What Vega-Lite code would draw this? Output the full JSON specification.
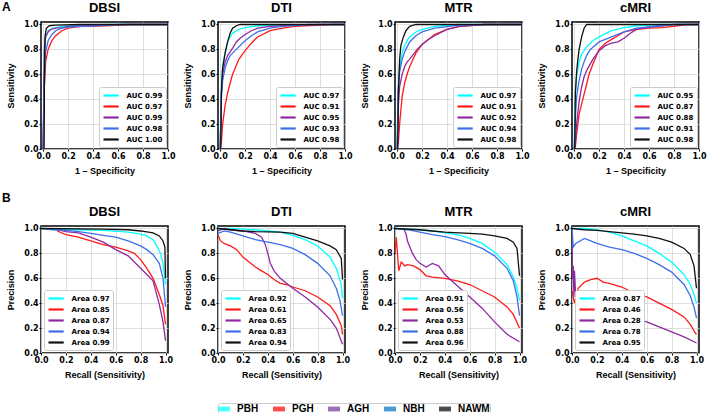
{
"$schema": "https://vega.github.io/schema/vega-lite/v6.json",
"padding": {"left": 2, "top": 0, "right": 0, "bottom": 0},
"config": {
 "font": "DejaVu Sans",
 "view": {"stroke": "black", "strokeWidth": 1.5},
 "axis": {"labelFontWeight": "bold", "labelFontSize": 8, "labelColor": "black", "titleFont": "Liberation Sans", "titleFontWeight": "bold", "titleFontSize": 9, "titleColor": "black", "gridColor": "#d6d6d6", "gridWidth": 0.8, "domain": false, "tickColor": "black", "tickSize": 2, "labelPadding": 1, "labelFlush": false, "labelOverlap": false},
 "axisX": {"titlePadding": 6},
 "axisY": {"titlePadding": 8},
 "title": {"font": "Liberation Sans", "fontSize": 13, "fontWeight": "bold", "offset": 5, "color": "black"},
 "legend": {"labelFont": "DejaVu Sans", "labelFontWeight": "bold", "labelFontSize": 7, "labelColor": "black", "symbolType": "M-1.9,0H1.9", "symbolSize": 64, "symbolStrokeWidth": 2.2, "symbolOffset": 3.6, "labelOffset": 10, "fillColor": "white", "strokeColor": "#cccccc", "padding": 3, "cornerRadius": 2, "rowPadding": 1, "offset": 2}
},
"datasets": {
 "roc": [
  {"p":"DBSI","s":"PBH","x":0,"y":0},{"p":"DBSI","s":"PBH","x":0.005,"y":0.3},{"p":"DBSI","s":"PBH","x":0.01,"y":0.8},{"p":"DBSI","s":"PBH","x":0.02,"y":0.9},{"p":"DBSI","s":"PBH","x":0.04,"y":0.95},{"p":"DBSI","s":"PBH","x":0.08,"y":0.97},{"p":"DBSI","s":"PBH","x":0.15,"y":0.985},{"p":"DBSI","s":"PBH","x":0.3,"y":0.995},{"p":"DBSI","s":"PBH","x":0.5,"y":1},{"p":"DBSI","s":"PBH","x":1,"y":1},
  {"p":"DBSI","s":"PGH","x":0,"y":0},{"p":"DBSI","s":"PGH","x":0.005,"y":0.3},{"p":"DBSI","s":"PGH","x":0.01,"y":0.5},{"p":"DBSI","s":"PGH","x":0.02,"y":0.7},{"p":"DBSI","s":"PGH","x":0.04,"y":0.8},{"p":"DBSI","s":"PGH","x":0.07,"y":0.87},{"p":"DBSI","s":"PGH","x":0.1,"y":0.91},{"p":"DBSI","s":"PGH","x":0.15,"y":0.95},{"p":"DBSI","s":"PGH","x":0.2,"y":0.97},{"p":"DBSI","s":"PGH","x":0.3,"y":0.985},{"p":"DBSI","s":"PGH","x":0.5,"y":0.99},{"p":"DBSI","s":"PGH","x":0.7,"y":1},{"p":"DBSI","s":"PGH","x":1,"y":1},
  {"p":"DBSI","s":"AGH","x":0,"y":0},{"p":"DBSI","s":"AGH","x":0.005,"y":0.4},{"p":"DBSI","s":"AGH","x":0.01,"y":0.8},{"p":"DBSI","s":"AGH","x":0.02,"y":0.9},{"p":"DBSI","s":"AGH","x":0.04,"y":0.94},{"p":"DBSI","s":"AGH","x":0.06,"y":0.96},{"p":"DBSI","s":"AGH","x":0.1,"y":0.97},{"p":"DBSI","s":"AGH","x":0.15,"y":0.975},{"p":"DBSI","s":"AGH","x":0.2,"y":0.985},{"p":"DBSI","s":"AGH","x":0.4,"y":0.99},{"p":"DBSI","s":"AGH","x":0.65,"y":1},{"p":"DBSI","s":"AGH","x":1,"y":1},
  {"p":"DBSI","s":"NBH","x":0,"y":0},{"p":"DBSI","s":"NBH","x":0.005,"y":0.3},{"p":"DBSI","s":"NBH","x":0.01,"y":0.6},{"p":"DBSI","s":"NBH","x":0.02,"y":0.78},{"p":"DBSI","s":"NBH","x":0.04,"y":0.87},{"p":"DBSI","s":"NBH","x":0.07,"y":0.92},{"p":"DBSI","s":"NBH","x":0.1,"y":0.95},{"p":"DBSI","s":"NBH","x":0.15,"y":0.97},{"p":"DBSI","s":"NBH","x":0.2,"y":0.98},{"p":"DBSI","s":"NBH","x":0.4,"y":0.99},{"p":"DBSI","s":"NBH","x":0.6,"y":1},{"p":"DBSI","s":"NBH","x":1,"y":1},
  {"p":"DBSI","s":"NAWM","x":0,"y":0},{"p":"DBSI","s":"NAWM","x":0.008,"y":0},{"p":"DBSI","s":"NAWM","x":0.01,"y":0.5},{"p":"DBSI","s":"NAWM","x":0.015,"y":0.9},{"p":"DBSI","s":"NAWM","x":0.025,"y":0.97},{"p":"DBSI","s":"NAWM","x":0.05,"y":0.99},{"p":"DBSI","s":"NAWM","x":0.1,"y":0.995},{"p":"DBSI","s":"NAWM","x":0.3,"y":1},{"p":"DBSI","s":"NAWM","x":1,"y":1},

  {"p":"DTI","s":"PBH","x":0,"y":0},{"p":"DTI","s":"PBH","x":0.005,"y":0.3},{"p":"DTI","s":"PBH","x":0.01,"y":0.5},{"p":"DTI","s":"PBH","x":0.02,"y":0.66},{"p":"DTI","s":"PBH","x":0.04,"y":0.78},{"p":"DTI","s":"PBH","x":0.06,"y":0.86},{"p":"DTI","s":"PBH","x":0.08,"y":0.9},{"p":"DTI","s":"PBH","x":0.1,"y":0.93},{"p":"DTI","s":"PBH","x":0.15,"y":0.96},{"p":"DTI","s":"PBH","x":0.2,"y":0.975},{"p":"DTI","s":"PBH","x":0.3,"y":0.99},{"p":"DTI","s":"PBH","x":0.5,"y":0.995},{"p":"DTI","s":"PBH","x":1,"y":1},
  {"p":"DTI","s":"PGH","x":0,"y":0},{"p":"DTI","s":"PGH","x":0.01,"y":0.05},{"p":"DTI","s":"PGH","x":0.02,"y":0.2},{"p":"DTI","s":"PGH","x":0.04,"y":0.35},{"p":"DTI","s":"PGH","x":0.06,"y":0.45},{"p":"DTI","s":"PGH","x":0.08,"y":0.53},{"p":"DTI","s":"PGH","x":0.1,"y":0.6},{"p":"DTI","s":"PGH","x":0.15,"y":0.72},{"p":"DTI","s":"PGH","x":0.2,"y":0.79},{"p":"DTI","s":"PGH","x":0.25,"y":0.85},{"p":"DTI","s":"PGH","x":0.3,"y":0.9},{"p":"DTI","s":"PGH","x":0.4,"y":0.95},{"p":"DTI","s":"PGH","x":0.5,"y":0.97},{"p":"DTI","s":"PGH","x":0.6,"y":0.985},{"p":"DTI","s":"PGH","x":0.8,"y":0.995},{"p":"DTI","s":"PGH","x":0.9,"y":1},{"p":"DTI","s":"PGH","x":1,"y":1},
  {"p":"DTI","s":"AGH","x":0,"y":0},{"p":"DTI","s":"AGH","x":0.005,"y":0.2},{"p":"DTI","s":"AGH","x":0.01,"y":0.45},{"p":"DTI","s":"AGH","x":0.02,"y":0.6},{"p":"DTI","s":"AGH","x":0.04,"y":0.7},{"p":"DTI","s":"AGH","x":0.06,"y":0.75},{"p":"DTI","s":"AGH","x":0.08,"y":0.78},{"p":"DTI","s":"AGH","x":0.1,"y":0.81},{"p":"DTI","s":"AGH","x":0.13,"y":0.86},{"p":"DTI","s":"AGH","x":0.16,"y":0.89},{"p":"DTI","s":"AGH","x":0.2,"y":0.92},{"p":"DTI","s":"AGH","x":0.25,"y":0.95},{"p":"DTI","s":"AGH","x":0.3,"y":0.97},{"p":"DTI","s":"AGH","x":0.4,"y":0.985},{"p":"DTI","s":"AGH","x":0.6,"y":0.995},{"p":"DTI","s":"AGH","x":0.8,"y":1},{"p":"DTI","s":"AGH","x":1,"y":1},
  {"p":"DTI","s":"NBH","x":0,"y":0},{"p":"DTI","s":"NBH","x":0.005,"y":0.2},{"p":"DTI","s":"NBH","x":0.01,"y":0.4},{"p":"DTI","s":"NBH","x":0.02,"y":0.55},{"p":"DTI","s":"NBH","x":0.04,"y":0.65},{"p":"DTI","s":"NBH","x":0.06,"y":0.71},{"p":"DTI","s":"NBH","x":0.08,"y":0.75},{"p":"DTI","s":"NBH","x":0.1,"y":0.77},{"p":"DTI","s":"NBH","x":0.15,"y":0.82},{"p":"DTI","s":"NBH","x":0.2,"y":0.87},{"p":"DTI","s":"NBH","x":0.25,"y":0.91},{"p":"DTI","s":"NBH","x":0.3,"y":0.94},{"p":"DTI","s":"NBH","x":0.4,"y":0.97},{"p":"DTI","s":"NBH","x":0.5,"y":0.985},{"p":"DTI","s":"NBH","x":0.7,"y":1},{"p":"DTI","s":"NBH","x":1,"y":1},
  {"p":"DTI","s":"NAWM","x":0,"y":0},{"p":"DTI","s":"NAWM","x":0.005,"y":0},{"p":"DTI","s":"NAWM","x":0.01,"y":0.45},{"p":"DTI","s":"NAWM","x":0.02,"y":0.65},{"p":"DTI","s":"NAWM","x":0.04,"y":0.77},{"p":"DTI","s":"NAWM","x":0.06,"y":0.86},{"p":"DTI","s":"NAWM","x":0.08,"y":0.93},{"p":"DTI","s":"NAWM","x":0.1,"y":0.97},{"p":"DTI","s":"NAWM","x":0.13,"y":0.99},{"p":"DTI","s":"NAWM","x":0.16,"y":1},{"p":"DTI","s":"NAWM","x":1,"y":1},

  {"p":"MTR","s":"PBH","x":0,"y":0},{"p":"MTR","s":"PBH","x":0.005,"y":0.3},{"p":"MTR","s":"PBH","x":0.01,"y":0.5},{"p":"MTR","s":"PBH","x":0.02,"y":0.65},{"p":"MTR","s":"PBH","x":0.04,"y":0.77},{"p":"MTR","s":"PBH","x":0.06,"y":0.83},{"p":"MTR","s":"PBH","x":0.08,"y":0.87},{"p":"MTR","s":"PBH","x":0.1,"y":0.9},{"p":"MTR","s":"PBH","x":0.15,"y":0.94},{"p":"MTR","s":"PBH","x":0.2,"y":0.96},{"p":"MTR","s":"PBH","x":0.3,"y":0.985},{"p":"MTR","s":"PBH","x":0.5,"y":1},{"p":"MTR","s":"PBH","x":1,"y":1},
  {"p":"MTR","s":"PGH","x":0,"y":0},{"p":"MTR","s":"PGH","x":0.01,"y":0.05},{"p":"MTR","s":"PGH","x":0.02,"y":0.2},{"p":"MTR","s":"PGH","x":0.04,"y":0.42},{"p":"MTR","s":"PGH","x":0.06,"y":0.53},{"p":"MTR","s":"PGH","x":0.08,"y":0.6},{"p":"MTR","s":"PGH","x":0.1,"y":0.66},{"p":"MTR","s":"PGH","x":0.15,"y":0.77},{"p":"MTR","s":"PGH","x":0.2,"y":0.84},{"p":"MTR","s":"PGH","x":0.25,"y":0.88},{"p":"MTR","s":"PGH","x":0.3,"y":0.92},{"p":"MTR","s":"PGH","x":0.4,"y":0.96},{"p":"MTR","s":"PGH","x":0.5,"y":0.985},{"p":"MTR","s":"PGH","x":0.7,"y":1},{"p":"MTR","s":"PGH","x":1,"y":1},
  {"p":"MTR","s":"AGH","x":0,"y":0},{"p":"MTR","s":"AGH","x":0.005,"y":0.15},{"p":"MTR","s":"AGH","x":0.01,"y":0.35},{"p":"MTR","s":"AGH","x":0.02,"y":0.5},{"p":"MTR","s":"AGH","x":0.04,"y":0.6},{"p":"MTR","s":"AGH","x":0.06,"y":0.66},{"p":"MTR","s":"AGH","x":0.08,"y":0.7},{"p":"MTR","s":"AGH","x":0.1,"y":0.72},{"p":"MTR","s":"AGH","x":0.13,"y":0.76},{"p":"MTR","s":"AGH","x":0.16,"y":0.8},{"p":"MTR","s":"AGH","x":0.2,"y":0.84},{"p":"MTR","s":"AGH","x":0.25,"y":0.88},{"p":"MTR","s":"AGH","x":0.3,"y":0.91},{"p":"MTR","s":"AGH","x":0.4,"y":0.96},{"p":"MTR","s":"AGH","x":0.5,"y":0.985},{"p":"MTR","s":"AGH","x":0.7,"y":1},{"p":"MTR","s":"AGH","x":1,"y":1},
  {"p":"MTR","s":"NBH","x":0,"y":0},{"p":"MTR","s":"NBH","x":0.005,"y":0.3},{"p":"MTR","s":"NBH","x":0.01,"y":0.5},{"p":"MTR","s":"NBH","x":0.02,"y":0.62},{"p":"MTR","s":"NBH","x":0.04,"y":0.72},{"p":"MTR","s":"NBH","x":0.06,"y":0.78},{"p":"MTR","s":"NBH","x":0.08,"y":0.82},{"p":"MTR","s":"NBH","x":0.1,"y":0.86},{"p":"MTR","s":"NBH","x":0.15,"y":0.91},{"p":"MTR","s":"NBH","x":0.2,"y":0.94},{"p":"MTR","s":"NBH","x":0.3,"y":0.97},{"p":"MTR","s":"NBH","x":0.5,"y":0.995},{"p":"MTR","s":"NBH","x":0.7,"y":1},{"p":"MTR","s":"NBH","x":1,"y":1},
  {"p":"MTR","s":"NAWM","x":0,"y":0},{"p":"MTR","s":"NAWM","x":0.005,"y":0},{"p":"MTR","s":"NAWM","x":0.01,"y":0.45},{"p":"MTR","s":"NAWM","x":0.02,"y":0.72},{"p":"MTR","s":"NAWM","x":0.03,"y":0.83},{"p":"MTR","s":"NAWM","x":0.05,"y":0.9},{"p":"MTR","s":"NAWM","x":0.07,"y":0.95},{"p":"MTR","s":"NAWM","x":0.1,"y":0.985},{"p":"MTR","s":"NAWM","x":0.15,"y":1},{"p":"MTR","s":"NAWM","x":1,"y":1},

  {"p":"cMRI","s":"PBH","x":0,"y":0},{"p":"cMRI","s":"PBH","x":0.005,"y":0.25},{"p":"cMRI","s":"PBH","x":0.01,"y":0.45},{"p":"cMRI","s":"PBH","x":0.02,"y":0.58},{"p":"cMRI","s":"PBH","x":0.04,"y":0.7},{"p":"cMRI","s":"PBH","x":0.06,"y":0.76},{"p":"cMRI","s":"PBH","x":0.08,"y":0.79},{"p":"cMRI","s":"PBH","x":0.1,"y":0.82},{"p":"cMRI","s":"PBH","x":0.15,"y":0.87},{"p":"cMRI","s":"PBH","x":0.2,"y":0.9},{"p":"cMRI","s":"PBH","x":0.3,"y":0.95},{"p":"cMRI","s":"PBH","x":0.4,"y":0.975},{"p":"cMRI","s":"PBH","x":0.5,"y":0.99},{"p":"cMRI","s":"PBH","x":0.7,"y":1},{"p":"cMRI","s":"PBH","x":1,"y":1},
  {"p":"cMRI","s":"PGH","x":0,"y":0},{"p":"cMRI","s":"PGH","x":0.01,"y":0.02},{"p":"cMRI","s":"PGH","x":0.02,"y":0.12},{"p":"cMRI","s":"PGH","x":0.04,"y":0.28},{"p":"cMRI","s":"PGH","x":0.06,"y":0.36},{"p":"cMRI","s":"PGH","x":0.08,"y":0.44},{"p":"cMRI","s":"PGH","x":0.1,"y":0.52},{"p":"cMRI","s":"PGH","x":0.12,"y":0.6},{"p":"cMRI","s":"PGH","x":0.15,"y":0.68},{"p":"cMRI","s":"PGH","x":0.2,"y":0.8},{"p":"cMRI","s":"PGH","x":0.25,"y":0.85},{"p":"cMRI","s":"PGH","x":0.3,"y":0.88},{"p":"cMRI","s":"PGH","x":0.35,"y":0.91},{"p":"cMRI","s":"PGH","x":0.4,"y":0.94},{"p":"cMRI","s":"PGH","x":0.5,"y":0.96},{"p":"cMRI","s":"PGH","x":0.6,"y":0.97},{"p":"cMRI","s":"PGH","x":0.7,"y":0.975},{"p":"cMRI","s":"PGH","x":0.8,"y":0.985},{"p":"cMRI","s":"PGH","x":0.9,"y":1},{"p":"cMRI","s":"PGH","x":1,"y":1},
  {"p":"cMRI","s":"AGH","x":0,"y":0},{"p":"cMRI","s":"AGH","x":0.01,"y":0.05},{"p":"cMRI","s":"AGH","x":0.02,"y":0.2},{"p":"cMRI","s":"AGH","x":0.04,"y":0.38},{"p":"cMRI","s":"AGH","x":0.06,"y":0.5},{"p":"cMRI","s":"AGH","x":0.08,"y":0.58},{"p":"cMRI","s":"AGH","x":0.1,"y":0.63},{"p":"cMRI","s":"AGH","x":0.15,"y":0.72},{"p":"cMRI","s":"AGH","x":0.2,"y":0.79},{"p":"cMRI","s":"AGH","x":0.25,"y":0.83},{"p":"cMRI","s":"AGH","x":0.3,"y":0.85},{"p":"cMRI","s":"AGH","x":0.35,"y":0.86},{"p":"cMRI","s":"AGH","x":0.4,"y":0.89},{"p":"cMRI","s":"AGH","x":0.45,"y":0.93},{"p":"cMRI","s":"AGH","x":0.5,"y":0.96},{"p":"cMRI","s":"AGH","x":0.6,"y":0.98},{"p":"cMRI","s":"AGH","x":0.8,"y":1},{"p":"cMRI","s":"AGH","x":1,"y":1},
  {"p":"cMRI","s":"NBH","x":0,"y":0},{"p":"cMRI","s":"NBH","x":0.005,"y":0.1},{"p":"cMRI","s":"NBH","x":0.01,"y":0.25},{"p":"cMRI","s":"NBH","x":0.02,"y":0.42},{"p":"cMRI","s":"NBH","x":0.04,"y":0.55},{"p":"cMRI","s":"NBH","x":0.06,"y":0.64},{"p":"cMRI","s":"NBH","x":0.08,"y":0.7},{"p":"cMRI","s":"NBH","x":0.1,"y":0.75},{"p":"cMRI","s":"NBH","x":0.13,"y":0.8},{"p":"cMRI","s":"NBH","x":0.2,"y":0.86},{"p":"cMRI","s":"NBH","x":0.25,"y":0.88},{"p":"cMRI","s":"NBH","x":0.3,"y":0.9},{"p":"cMRI","s":"NBH","x":0.4,"y":0.94},{"p":"cMRI","s":"NBH","x":0.5,"y":0.97},{"p":"cMRI","s":"NBH","x":0.6,"y":0.98},{"p":"cMRI","s":"NBH","x":0.7,"y":0.99},{"p":"cMRI","s":"NBH","x":0.8,"y":1},{"p":"cMRI","s":"NBH","x":1,"y":1},
  {"p":"cMRI","s":"NAWM","x":0,"y":0},{"p":"cMRI","s":"NAWM","x":0.005,"y":0},{"p":"cMRI","s":"NAWM","x":0.01,"y":0.45},{"p":"cMRI","s":"NAWM","x":0.02,"y":0.62},{"p":"cMRI","s":"NAWM","x":0.03,"y":0.72},{"p":"cMRI","s":"NAWM","x":0.04,"y":0.8},{"p":"cMRI","s":"NAWM","x":0.06,"y":0.9},{"p":"cMRI","s":"NAWM","x":0.08,"y":0.97},{"p":"cMRI","s":"NAWM","x":0.1,"y":1},{"p":"cMRI","s":"NAWM","x":1,"y":1}
 ],
 "pr": [
  {"p":"DBSI","s":"PBH","x":0,"y":1},{"p":"DBSI","s":"PBH","x":0.3,"y":0.99},{"p":"DBSI","s":"PBH","x":0.5,"y":0.985},{"p":"DBSI","s":"PBH","x":0.7,"y":0.97},{"p":"DBSI","s":"PBH","x":0.8,"y":0.955},{"p":"DBSI","s":"PBH","x":0.85,"y":0.94},{"p":"DBSI","s":"PBH","x":0.9,"y":0.91},{"p":"DBSI","s":"PBH","x":0.93,"y":0.86},{"p":"DBSI","s":"PBH","x":0.96,"y":0.8},{"p":"DBSI","s":"PBH","x":0.98,"y":0.72},{"p":"DBSI","s":"PBH","x":1,"y":0.55},
  {"p":"DBSI","s":"PGH","x":0.13,"y":0.98},{"p":"DBSI","s":"PGH","x":0.2,"y":0.95},{"p":"DBSI","s":"PGH","x":0.25,"y":0.94},{"p":"DBSI","s":"PGH","x":0.3,"y":0.93},{"p":"DBSI","s":"PGH","x":0.4,"y":0.9},{"p":"DBSI","s":"PGH","x":0.5,"y":0.87},{"p":"DBSI","s":"PGH","x":0.6,"y":0.85},{"p":"DBSI","s":"PGH","x":0.7,"y":0.82},{"p":"DBSI","s":"PGH","x":0.75,"y":0.8},{"p":"DBSI","s":"PGH","x":0.8,"y":0.75},{"p":"DBSI","s":"PGH","x":0.85,"y":0.68},{"p":"DBSI","s":"PGH","x":0.9,"y":0.6},{"p":"DBSI","s":"PGH","x":0.95,"y":0.47},{"p":"DBSI","s":"PGH","x":0.98,"y":0.38},{"p":"DBSI","s":"PGH","x":1,"y":0.23},
  {"p":"DBSI","s":"AGH","x":0.13,"y":0.99},{"p":"DBSI","s":"AGH","x":0.2,"y":0.975},{"p":"DBSI","s":"AGH","x":0.3,"y":0.965},{"p":"DBSI","s":"AGH","x":0.4,"y":0.93},{"p":"DBSI","s":"AGH","x":0.5,"y":0.89},{"p":"DBSI","s":"AGH","x":0.6,"y":0.83},{"p":"DBSI","s":"AGH","x":0.7,"y":0.78},{"p":"DBSI","s":"AGH","x":0.8,"y":0.68},{"p":"DBSI","s":"AGH","x":0.85,"y":0.63},{"p":"DBSI","s":"AGH","x":0.9,"y":0.58},{"p":"DBSI","s":"AGH","x":0.95,"y":0.39},{"p":"DBSI","s":"AGH","x":0.98,"y":0.25},{"p":"DBSI","s":"AGH","x":1,"y":0.1},
  {"p":"DBSI","s":"NBH","x":0,"y":1},{"p":"DBSI","s":"NBH","x":0.1,"y":0.99},{"p":"DBSI","s":"NBH","x":0.2,"y":0.985},{"p":"DBSI","s":"NBH","x":0.3,"y":0.975},{"p":"DBSI","s":"NBH","x":0.4,"y":0.96},{"p":"DBSI","s":"NBH","x":0.5,"y":0.945},{"p":"DBSI","s":"NBH","x":0.6,"y":0.93},{"p":"DBSI","s":"NBH","x":0.7,"y":0.9},{"p":"DBSI","s":"NBH","x":0.8,"y":0.86},{"p":"DBSI","s":"NBH","x":0.85,"y":0.83},{"p":"DBSI","s":"NBH","x":0.9,"y":0.79},{"p":"DBSI","s":"NBH","x":0.95,"y":0.72},{"p":"DBSI","s":"NBH","x":0.98,"y":0.6},{"p":"DBSI","s":"NBH","x":1,"y":0.37},
  {"p":"DBSI","s":"NAWM","x":0,"y":1},{"p":"DBSI","s":"NAWM","x":0.5,"y":0.995},{"p":"DBSI","s":"NAWM","x":0.7,"y":0.99},{"p":"DBSI","s":"NAWM","x":0.8,"y":0.98},{"p":"DBSI","s":"NAWM","x":0.9,"y":0.965},{"p":"DBSI","s":"NAWM","x":0.95,"y":0.94},{"p":"DBSI","s":"NAWM","x":0.98,"y":0.9},{"p":"DBSI","s":"NAWM","x":0.995,"y":0.85},{"p":"DBSI","s":"NAWM","x":1,"y":0.6},

  {"p":"DTI","s":"PBH","x":0,"y":1},{"p":"DTI","s":"PBH","x":0.1,"y":1},{"p":"DTI","s":"PBH","x":0.2,"y":0.995},{"p":"DTI","s":"PBH","x":0.3,"y":0.99},{"p":"DTI","s":"PBH","x":0.4,"y":0.98},{"p":"DTI","s":"PBH","x":0.5,"y":0.97},{"p":"DTI","s":"PBH","x":0.6,"y":0.945},{"p":"DTI","s":"PBH","x":0.7,"y":0.91},{"p":"DTI","s":"PBH","x":0.8,"y":0.86},{"p":"DTI","s":"PBH","x":0.9,"y":0.77},{"p":"DTI","s":"PBH","x":0.95,"y":0.68},{"p":"DTI","s":"PBH","x":0.99,"y":0.55},{"p":"DTI","s":"PBH","x":1,"y":0.44},
  {"p":"DTI","s":"PGH","x":0,"y":0.95},{"p":"DTI","s":"PGH","x":0.02,"y":0.9},{"p":"DTI","s":"PGH","x":0.05,"y":0.88},{"p":"DTI","s":"PGH","x":0.1,"y":0.86},{"p":"DTI","s":"PGH","x":0.15,"y":0.83},{"p":"DTI","s":"PGH","x":0.2,"y":0.77},{"p":"DTI","s":"PGH","x":0.25,"y":0.73},{"p":"DTI","s":"PGH","x":0.3,"y":0.69},{"p":"DTI","s":"PGH","x":0.35,"y":0.66},{"p":"DTI","s":"PGH","x":0.4,"y":0.63},{"p":"DTI","s":"PGH","x":0.45,"y":0.59},{"p":"DTI","s":"PGH","x":0.5,"y":0.56},{"p":"DTI","s":"PGH","x":0.55,"y":0.55},{"p":"DTI","s":"PGH","x":0.6,"y":0.53},{"p":"DTI","s":"PGH","x":0.7,"y":0.5},{"p":"DTI","s":"PGH","x":0.8,"y":0.45},{"p":"DTI","s":"PGH","x":0.9,"y":0.38},{"p":"DTI","s":"PGH","x":0.95,"y":0.31},{"p":"DTI","s":"PGH","x":0.99,"y":0.22},{"p":"DTI","s":"PGH","x":1,"y":0.15},
  {"p":"DTI","s":"AGH","x":0,"y":0.98},{"p":"DTI","s":"AGH","x":0.05,"y":1},{"p":"DTI","s":"AGH","x":0.1,"y":0.99},{"p":"DTI","s":"AGH","x":0.2,"y":0.98},{"p":"DTI","s":"AGH","x":0.25,"y":0.97},{"p":"DTI","s":"AGH","x":0.3,"y":0.96},{"p":"DTI","s":"AGH","x":0.35,"y":0.93},{"p":"DTI","s":"AGH","x":0.38,"y":0.87},{"p":"DTI","s":"AGH","x":0.4,"y":0.8},{"p":"DTI","s":"AGH","x":0.42,"y":0.72},{"p":"DTI","s":"AGH","x":0.45,"y":0.66},{"p":"DTI","s":"AGH","x":0.5,"y":0.6},{"p":"DTI","s":"AGH","x":0.55,"y":0.56},{"p":"DTI","s":"AGH","x":0.6,"y":0.52},{"p":"DTI","s":"AGH","x":0.7,"y":0.45},{"p":"DTI","s":"AGH","x":0.8,"y":0.37},{"p":"DTI","s":"AGH","x":0.9,"y":0.27},{"p":"DTI","s":"AGH","x":0.95,"y":0.2},{"p":"DTI","s":"AGH","x":1,"y":0.07},
  {"p":"DTI","s":"NBH","x":0,"y":0.96},{"p":"DTI","s":"NBH","x":0.05,"y":0.98},{"p":"DTI","s":"NBH","x":0.1,"y":0.97},{"p":"DTI","s":"NBH","x":0.2,"y":0.94},{"p":"DTI","s":"NBH","x":0.3,"y":0.91},{"p":"DTI","s":"NBH","x":0.4,"y":0.89},{"p":"DTI","s":"NBH","x":0.5,"y":0.87},{"p":"DTI","s":"NBH","x":0.6,"y":0.84},{"p":"DTI","s":"NBH","x":0.7,"y":0.79},{"p":"DTI","s":"NBH","x":0.8,"y":0.72},{"p":"DTI","s":"NBH","x":0.9,"y":0.62},{"p":"DTI","s":"NBH","x":0.95,"y":0.52},{"p":"DTI","s":"NBH","x":0.98,"y":0.42},{"p":"DTI","s":"NBH","x":1,"y":0.3},
  {"p":"DTI","s":"NAWM","x":0,"y":1},{"p":"DTI","s":"NAWM","x":0.1,"y":0.99},{"p":"DTI","s":"NAWM","x":0.2,"y":0.98},{"p":"DTI","s":"NAWM","x":0.3,"y":0.975},{"p":"DTI","s":"NAWM","x":0.5,"y":0.97},{"p":"DTI","s":"NAWM","x":0.6,"y":0.96},{"p":"DTI","s":"NAWM","x":0.7,"y":0.93},{"p":"DTI","s":"NAWM","x":0.8,"y":0.9},{"p":"DTI","s":"NAWM","x":0.9,"y":0.86},{"p":"DTI","s":"NAWM","x":0.95,"y":0.83},{"p":"DTI","s":"NAWM","x":0.99,"y":0.76},{"p":"DTI","s":"NAWM","x":1,"y":0.59},

  {"p":"MTR","s":"PBH","x":0,"y":1},{"p":"MTR","s":"PBH","x":0.2,"y":0.99},{"p":"MTR","s":"PBH","x":0.3,"y":0.98},{"p":"MTR","s":"PBH","x":0.4,"y":0.965},{"p":"MTR","s":"PBH","x":0.5,"y":0.95},{"p":"MTR","s":"PBH","x":0.6,"y":0.92},{"p":"MTR","s":"PBH","x":0.7,"y":0.88},{"p":"MTR","s":"PBH","x":0.8,"y":0.81},{"p":"MTR","s":"PBH","x":0.9,"y":0.71},{"p":"MTR","s":"PBH","x":0.95,"y":0.61},{"p":"MTR","s":"PBH","x":0.98,"y":0.52},{"p":"MTR","s":"PBH","x":1,"y":0.42},
  {"p":"MTR","s":"PGH","x":0,"y":0.8},{"p":"MTR","s":"PGH","x":0.01,"y":0.93},{"p":"MTR","s":"PGH","x":0.02,"y":0.8},{"p":"MTR","s":"PGH","x":0.03,"y":0.66},{"p":"MTR","s":"PGH","x":0.05,"y":0.73},{"p":"MTR","s":"PGH","x":0.08,"y":0.7},{"p":"MTR","s":"PGH","x":0.1,"y":0.71},{"p":"MTR","s":"PGH","x":0.15,"y":0.7},{"p":"MTR","s":"PGH","x":0.2,"y":0.67},{"p":"MTR","s":"PGH","x":0.25,"y":0.62},{"p":"MTR","s":"PGH","x":0.3,"y":0.61},{"p":"MTR","s":"PGH","x":0.4,"y":0.6},{"p":"MTR","s":"PGH","x":0.5,"y":0.58},{"p":"MTR","s":"PGH","x":0.6,"y":0.55},{"p":"MTR","s":"PGH","x":0.7,"y":0.5},{"p":"MTR","s":"PGH","x":0.8,"y":0.45},{"p":"MTR","s":"PGH","x":0.9,"y":0.37},{"p":"MTR","s":"PGH","x":0.95,"y":0.31},{"p":"MTR","s":"PGH","x":1,"y":0.2},
  {"p":"MTR","s":"AGH","x":0.07,"y":1},{"p":"MTR","s":"AGH","x":0.09,"y":0.95},{"p":"MTR","s":"AGH","x":0.1,"y":0.9},{"p":"MTR","s":"AGH","x":0.12,"y":0.85},{"p":"MTR","s":"AGH","x":0.14,"y":0.8},{"p":"MTR","s":"AGH","x":0.17,"y":0.75},{"p":"MTR","s":"AGH","x":0.2,"y":0.72},{"p":"MTR","s":"AGH","x":0.25,"y":0.69},{"p":"MTR","s":"AGH","x":0.3,"y":0.72},{"p":"MTR","s":"AGH","x":0.35,"y":0.7},{"p":"MTR","s":"AGH","x":0.4,"y":0.63},{"p":"MTR","s":"AGH","x":0.5,"y":0.54},{"p":"MTR","s":"AGH","x":0.6,"y":0.45},{"p":"MTR","s":"AGH","x":0.7,"y":0.36},{"p":"MTR","s":"AGH","x":0.8,"y":0.25},{"p":"MTR","s":"AGH","x":0.9,"y":0.15},{"p":"MTR","s":"AGH","x":1,"y":0.09},
  {"p":"MTR","s":"NBH","x":0,"y":1},{"p":"MTR","s":"NBH","x":0.1,"y":0.99},{"p":"MTR","s":"NBH","x":0.2,"y":0.97},{"p":"MTR","s":"NBH","x":0.3,"y":0.95},{"p":"MTR","s":"NBH","x":0.4,"y":0.935},{"p":"MTR","s":"NBH","x":0.5,"y":0.91},{"p":"MTR","s":"NBH","x":0.6,"y":0.88},{"p":"MTR","s":"NBH","x":0.7,"y":0.84},{"p":"MTR","s":"NBH","x":0.8,"y":0.78},{"p":"MTR","s":"NBH","x":0.9,"y":0.68},{"p":"MTR","s":"NBH","x":0.95,"y":0.58},{"p":"MTR","s":"NBH","x":0.98,"y":0.45},{"p":"MTR","s":"NBH","x":1,"y":0.3},
  {"p":"MTR","s":"NAWM","x":0,"y":1},{"p":"MTR","s":"NAWM","x":0.2,"y":0.99},{"p":"MTR","s":"NAWM","x":0.3,"y":0.98},{"p":"MTR","s":"NAWM","x":0.4,"y":0.97},{"p":"MTR","s":"NAWM","x":0.6,"y":0.96},{"p":"MTR","s":"NAWM","x":0.7,"y":0.955},{"p":"MTR","s":"NAWM","x":0.8,"y":0.94},{"p":"MTR","s":"NAWM","x":0.9,"y":0.92},{"p":"MTR","s":"NAWM","x":0.95,"y":0.89},{"p":"MTR","s":"NAWM","x":0.98,"y":0.84},{"p":"MTR","s":"NAWM","x":1,"y":0.62},

  {"p":"cMRI","s":"PBH","x":0,"y":1},{"p":"cMRI","s":"PBH","x":0.1,"y":1},{"p":"cMRI","s":"PBH","x":0.2,"y":0.99},{"p":"cMRI","s":"PBH","x":0.3,"y":0.97},{"p":"cMRI","s":"PBH","x":0.4,"y":0.94},{"p":"cMRI","s":"PBH","x":0.5,"y":0.9},{"p":"cMRI","s":"PBH","x":0.6,"y":0.86},{"p":"cMRI","s":"PBH","x":0.7,"y":0.8},{"p":"cMRI","s":"PBH","x":0.8,"y":0.73},{"p":"cMRI","s":"PBH","x":0.9,"y":0.63},{"p":"cMRI","s":"PBH","x":0.95,"y":0.55},{"p":"cMRI","s":"PBH","x":0.98,"y":0.47},{"p":"cMRI","s":"PBH","x":1,"y":0.4},
  {"p":"cMRI","s":"PGH","x":0,"y":0.5},{"p":"cMRI","s":"PGH","x":0.02,"y":0.4},{"p":"cMRI","s":"PGH","x":0.05,"y":0.52},{"p":"cMRI","s":"PGH","x":0.1,"y":0.57},{"p":"cMRI","s":"PGH","x":0.15,"y":0.59},{"p":"cMRI","s":"PGH","x":0.2,"y":0.6},{"p":"cMRI","s":"PGH","x":0.25,"y":0.57},{"p":"cMRI","s":"PGH","x":0.3,"y":0.56},{"p":"cMRI","s":"PGH","x":0.4,"y":0.53},{"p":"cMRI","s":"PGH","x":0.5,"y":0.48},{"p":"cMRI","s":"PGH","x":0.6,"y":0.45},{"p":"cMRI","s":"PGH","x":0.7,"y":0.4},{"p":"cMRI","s":"PGH","x":0.8,"y":0.35},{"p":"cMRI","s":"PGH","x":0.9,"y":0.29},{"p":"cMRI","s":"PGH","x":0.95,"y":0.23},{"p":"cMRI","s":"PGH","x":0.99,"y":0.16},{"p":"cMRI","s":"PGH","x":1,"y":0.15},
  {"p":"cMRI","s":"AGH","x":0,"y":0.95},{"p":"cMRI","s":"AGH","x":0.005,"y":0.6},{"p":"cMRI","s":"AGH","x":0.01,"y":0.7},{"p":"cMRI","s":"AGH","x":0.015,"y":0.45},{"p":"cMRI","s":"AGH","x":0.02,"y":0.66},{"p":"cMRI","s":"AGH","x":0.03,"y":0.45},{"p":"cMRI","s":"AGH","x":0.05,"y":0.35},{"p":"cMRI","s":"AGH","x":0.1,"y":0.33},{"p":"cMRI","s":"AGH","x":0.2,"y":0.34},{"p":"cMRI","s":"AGH","x":0.3,"y":0.34},{"p":"cMRI","s":"AGH","x":0.4,"y":0.31},{"p":"cMRI","s":"AGH","x":0.5,"y":0.28},{"p":"cMRI","s":"AGH","x":0.6,"y":0.25},{"p":"cMRI","s":"AGH","x":0.7,"y":0.21},{"p":"cMRI","s":"AGH","x":0.8,"y":0.17},{"p":"cMRI","s":"AGH","x":0.9,"y":0.13},{"p":"cMRI","s":"AGH","x":1,"y":0.08},
  {"p":"cMRI","s":"NBH","x":0,"y":1},{"p":"cMRI","s":"NBH","x":0.01,"y":0.85},{"p":"cMRI","s":"NBH","x":0.03,"y":0.88},{"p":"cMRI","s":"NBH","x":0.1,"y":0.92},{"p":"cMRI","s":"NBH","x":0.15,"y":0.9},{"p":"cMRI","s":"NBH","x":0.2,"y":0.88},{"p":"cMRI","s":"NBH","x":0.3,"y":0.85},{"p":"cMRI","s":"NBH","x":0.4,"y":0.83},{"p":"cMRI","s":"NBH","x":0.5,"y":0.8},{"p":"cMRI","s":"NBH","x":0.6,"y":0.76},{"p":"cMRI","s":"NBH","x":0.7,"y":0.71},{"p":"cMRI","s":"NBH","x":0.8,"y":0.65},{"p":"cMRI","s":"NBH","x":0.9,"y":0.55},{"p":"cMRI","s":"NBH","x":0.95,"y":0.46},{"p":"cMRI","s":"NBH","x":0.98,"y":0.37},{"p":"cMRI","s":"NBH","x":1,"y":0.28},
  {"p":"cMRI","s":"NAWM","x":0,"y":1},{"p":"cMRI","s":"NAWM","x":0.1,"y":0.99},{"p":"cMRI","s":"NAWM","x":0.2,"y":0.985},{"p":"cMRI","s":"NAWM","x":0.3,"y":0.975},{"p":"cMRI","s":"NAWM","x":0.4,"y":0.965},{"p":"cMRI","s":"NAWM","x":0.5,"y":0.955},{"p":"cMRI","s":"NAWM","x":0.6,"y":0.94},{"p":"cMRI","s":"NAWM","x":0.7,"y":0.92},{"p":"cMRI","s":"NAWM","x":0.8,"y":0.89},{"p":"cMRI","s":"NAWM","x":0.9,"y":0.84},{"p":"cMRI","s":"NAWM","x":0.95,"y":0.79},{"p":"cMRI","s":"NAWM","x":0.98,"y":0.7},{"p":"cMRI","s":"NAWM","x":1,"y":0.52}
 ]
},
"vconcat": [
 {
  "title": {"text": "A", "anchor": "start", "frame": "bounds", "fontSize": 12, "offset": -12, "dx": -4},
  "bounds": "flush", "spacing": 50,
  "resolve": {"scale": {"color": "independent"}, "legend": {"color": "independent"}},
  "hconcat": [
   {"title": "DBSI", "width": 127, "height": 127, "data": {"name": "roc"}, "transform": [{"filter": "datum.p == 'DBSI'"}],
    "mark": {"type": "line", "strokeWidth": 1.3, "clip": true},
    "encoding": {
     "x": {"field": "x", "type": "quantitative", "scale": {"domain": [-0.017, 1], "nice": false, "zero": false}, "axis": {"title": "1 – Specificity", "values": [0, 0.2, 0.4, 0.6, 0.8, 1], "format": ".1f"}},
     "y": {"field": "y", "type": "quantitative", "scale": {"domain": [0, 1.02], "nice": false}, "axis": {"title": "Sensitivity", "values": [0, 0.2, 0.4, 0.6, 0.8, 1], "format": ".1f"}},
     "color": {"field": "s", "type": "nominal", "scale": {"domain": ["PBH", "PGH", "AGH", "NBH", "NAWM"], "range": ["#00FFFF", "#FF1A1A", "#8E2A9E", "#3F6FE8", "#111111"]},
      "legend": {"title": null, "orient": "bottom-right", "labelExpr": "datum.label=='PBH'?'AUC 0.99':datum.label=='PGH'?'AUC 0.97':datum.label=='AGH'?'AUC 0.99':datum.label=='NBH'?'AUC 0.98':'AUC 1.00'"}}
    }},
   {"title": "DTI", "width": 127, "height": 127, "data": {"name": "roc"}, "transform": [{"filter": "datum.p == 'DTI'"}],
    "mark": {"type": "line", "strokeWidth": 1.3, "clip": true},
    "encoding": {
     "x": {"field": "x", "type": "quantitative", "scale": {"domain": [-0.017, 1], "nice": false, "zero": false}, "axis": {"title": "1 – Specificity", "values": [0, 0.2, 0.4, 0.6, 0.8, 1], "format": ".1f"}},
     "y": {"field": "y", "type": "quantitative", "scale": {"domain": [0, 1.02], "nice": false}, "axis": {"title": "Sensitivity", "values": [0, 0.2, 0.4, 0.6, 0.8, 1], "format": ".1f"}},
     "color": {"field": "s", "type": "nominal", "scale": {"domain": ["PBH", "PGH", "AGH", "NBH", "NAWM"], "range": ["#00FFFF", "#FF1A1A", "#8E2A9E", "#3F6FE8", "#111111"]},
      "legend": {"title": null, "orient": "bottom-right", "labelExpr": "datum.label=='PBH'?'AUC 0.97':datum.label=='PGH'?'AUC 0.91':datum.label=='AGH'?'AUC 0.95':datum.label=='NBH'?'AUC 0.93':'AUC 0.98'"}}
    }},
   {"title": "MTR", "width": 127, "height": 127, "data": {"name": "roc"}, "transform": [{"filter": "datum.p == 'MTR'"}],
    "mark": {"type": "line", "strokeWidth": 1.3, "clip": true},
    "encoding": {
     "x": {"field": "x", "type": "quantitative", "scale": {"domain": [-0.017, 1], "nice": false, "zero": false}, "axis": {"title": "1 – Specificity", "values": [0, 0.2, 0.4, 0.6, 0.8, 1], "format": ".1f"}},
     "y": {"field": "y", "type": "quantitative", "scale": {"domain": [0, 1.02], "nice": false}, "axis": {"title": "Sensitivity", "values": [0, 0.2, 0.4, 0.6, 0.8, 1], "format": ".1f"}},
     "color": {"field": "s", "type": "nominal", "scale": {"domain": ["PBH", "PGH", "AGH", "NBH", "NAWM"], "range": ["#00FFFF", "#FF1A1A", "#8E2A9E", "#3F6FE8", "#111111"]},
      "legend": {"title": null, "orient": "bottom-right", "labelExpr": "datum.label=='PBH'?'AUC 0.97':datum.label=='PGH'?'AUC 0.91':datum.label=='AGH'?'AUC 0.92':datum.label=='NBH'?'AUC 0.94':'AUC 0.98'"}}
    }},
   {"title": "cMRI", "width": 127, "height": 127, "data": {"name": "roc"}, "transform": [{"filter": "datum.p == 'cMRI'"}],
    "mark": {"type": "line", "strokeWidth": 1.3, "clip": true},
    "encoding": {
     "x": {"field": "x", "type": "quantitative", "scale": {"domain": [-0.017, 1], "nice": false, "zero": false}, "axis": {"title": "1 – Specificity", "values": [0, 0.2, 0.4, 0.6, 0.8, 1], "format": ".1f"}},
     "y": {"field": "y", "type": "quantitative", "scale": {"domain": [0, 1.02], "nice": false}, "axis": {"title": "Sensitivity", "values": [0, 0.2, 0.4, 0.6, 0.8, 1], "format": ".1f"}},
     "color": {"field": "s", "type": "nominal", "scale": {"domain": ["PBH", "PGH", "AGH", "NBH", "NAWM"], "range": ["#00FFFF", "#FF1A1A", "#8E2A9E", "#3F6FE8", "#111111"]},
      "legend": {"title": null, "orient": "bottom-right", "labelExpr": "datum.label=='PBH'?'AUC 0.95':datum.label=='PGH'?'AUC 0.87':datum.label=='AGH'?'AUC 0.88':datum.label=='NBH'?'AUC 0.91':'AUC 0.98'"}}
    }}
  ]
 },
 {
  "bounds": "flush", "spacing": 177,
  "resolve": {"scale": {"color": "independent"}, "legend": {"color": "independent"}},
  "vconcat": [
   {
    "title": {"text": "B", "anchor": "start", "frame": "bounds", "fontSize": 12, "offset": 1, "dx": -4},
    "bounds": "flush", "spacing": 50,
    "resolve": {"scale": {"color": "independent"}, "legend": {"color": "independent"}},
    "hconcat": [
     {"title": "DBSI", "width": 127, "height": 127, "data": {"name": "pr"}, "transform": [{"filter": "datum.p == 'DBSI'"}],
      "mark": {"type": "line", "strokeWidth": 1.3, "clip": true},
      "encoding": {
       "x": {"field": "x", "type": "quantitative", "scale": {"domain": [0, 1.02], "nice": false, "zero": false}, "axis": {"title": "Recall (Sensitivity)", "values": [0, 0.2, 0.4, 0.6, 0.8, 1], "format": ".1f"}},
       "y": {"field": "y", "type": "quantitative", "scale": {"domain": [0, 1.02], "nice": false}, "axis": {"title": "Precision", "values": [0, 0.2, 0.4, 0.6, 0.8, 1], "format": ".1f"}},
       "color": {"field": "s", "type": "nominal", "scale": {"domain": ["PBH", "PGH", "AGH", "NBH", "NAWM"], "range": ["#00FFFF", "#FF1A1A", "#8E2A9E", "#3F6FE8", "#111111"]},
        "legend": {"title": null, "orient": "bottom-left", "offset": 3, "labelExpr": "datum.label=='PBH'?'Area 0.97':datum.label=='PGH'?'Area 0.85':datum.label=='AGH'?'Area 0.87':datum.label=='NBH'?'Area 0.94':'Area 0.99'"}}
      }},
     {"title": "DTI", "width": 127, "height": 127, "data": {"name": "pr"}, "transform": [{"filter": "datum.p == 'DTI'"}],
      "mark": {"type": "line", "strokeWidth": 1.3, "clip": true},
      "encoding": {
       "x": {"field": "x", "type": "quantitative", "scale": {"domain": [0, 1.02], "nice": false, "zero": false}, "axis": {"title": "Recall (Sensitivity)", "values": [0, 0.2, 0.4, 0.6, 0.8, 1], "format": ".1f"}},
       "y": {"field": "y", "type": "quantitative", "scale": {"domain": [0, 1.02], "nice": false}, "axis": {"title": "Precision", "values": [0, 0.2, 0.4, 0.6, 0.8, 1], "format": ".1f"}},
       "color": {"field": "s", "type": "nominal", "scale": {"domain": ["PBH", "PGH", "AGH", "NBH", "NAWM"], "range": ["#00FFFF", "#FF1A1A", "#8E2A9E", "#3F6FE8", "#111111"]},
        "legend": {"title": null, "orient": "bottom-left", "offset": 3, "labelExpr": "datum.label=='PBH'?'Area 0.92':datum.label=='PGH'?'Area 0.61':datum.label=='AGH'?'Area 0.65':datum.label=='NBH'?'Area 0.83':'Area 0.94'"}}
      }},
     {"title": "MTR", "width": 127, "height": 127, "data": {"name": "pr"}, "transform": [{"filter": "datum.p == 'MTR'"}],
      "mark": {"type": "line", "strokeWidth": 1.3, "clip": true},
      "encoding": {
       "x": {"field": "x", "type": "quantitative", "scale": {"domain": [0, 1.02], "nice": false, "zero": false}, "axis": {"title": "Recall (Sensitivity)", "values": [0, 0.2, 0.4, 0.6, 0.8, 1], "format": ".1f"}},
       "y": {"field": "y", "type": "quantitative", "scale": {"domain": [0, 1.02], "nice": false}, "axis": {"title": "Precision", "values": [0, 0.2, 0.4, 0.6, 0.8, 1], "format": ".1f"}},
       "color": {"field": "s", "type": "nominal", "scale": {"domain": ["PBH", "PGH", "AGH", "NBH", "NAWM"], "range": ["#00FFFF", "#FF1A1A", "#8E2A9E", "#3F6FE8", "#111111"]},
        "legend": {"title": null, "orient": "bottom-left", "offset": 3, "labelExpr": "datum.label=='PBH'?'Area 0.91':datum.label=='PGH'?'Area 0.56':datum.label=='AGH'?'Area 0.53':datum.label=='NBH'?'Area 0.88':'Area 0.96'"}}
      }},
     {"title": "cMRI", "width": 127, "height": 127, "data": {"name": "pr"}, "transform": [{"filter": "datum.p == 'cMRI'"}],
      "mark": {"type": "line", "strokeWidth": 1.3, "clip": true},
      "encoding": {
       "x": {"field": "x", "type": "quantitative", "scale": {"domain": [0, 1.02], "nice": false, "zero": false}, "axis": {"title": "Recall (Sensitivity)", "values": [0, 0.2, 0.4, 0.6, 0.8, 1], "format": ".1f"}},
       "y": {"field": "y", "type": "quantitative", "scale": {"domain": [0, 1.02], "nice": false}, "axis": {"title": "Precision", "values": [0, 0.2, 0.4, 0.6, 0.8, 1], "format": ".1f"}},
       "color": {"field": "s", "type": "nominal", "scale": {"domain": ["PBH", "PGH", "AGH", "NBH", "NAWM"], "range": ["#00FFFF", "#FF1A1A", "#8E2A9E", "#3F6FE8", "#111111"]},
        "legend": {"title": null, "orient": "bottom-left", "offset": 3, "labelExpr": "datum.label=='PBH'?'Area 0.87':datum.label=='PGH'?'Area 0.46':datum.label=='AGH'?'Area 0.28':datum.label=='NBH'?'Area 0.78':'Area 0.95'"}}
      }}
    ]
   },
   {
    "width": 500, "height": 1, "view": {"stroke": null},
    "data": {"values": [{"s": "PBH"}, {"s": "PGH"}, {"s": "AGH"}, {"s": "NBH"}, {"s": "NAWM"}]},
    "mark": {"type": "square", "size": 0},
    "encoding": {
     "color": {"field": "s", "type": "nominal", "scale": {"domain": ["PBH", "PGH", "AGH", "NBH", "NAWM"], "range": ["#00FFFF", "#FF0000", "#7030A0", "#0070C0", "#000000"]},
      "legend": {"title": null, "orient": "none", "direction": "horizontal", "legendX": 177, "legendY": 0, "symbolType": "M-1,-0.4H1V0.4H-1Z", "symbolSize": 144, "symbolStrokeWidth": 0, "symbolOffset": 0, "labelFont": "Liberation Sans", "labelFontSize": 10, "labelFontWeight": "bold", "labelOffset": 7, "columnPadding": 14, "fillColor": null, "strokeColor": null, "padding": 0}}
    }
   }
  ]
 }
],
"bounds": "flush", "spacing": 204,
"resolve": {"scale": {"color": "independent"}, "legend": {"color": "independent"}}
}
